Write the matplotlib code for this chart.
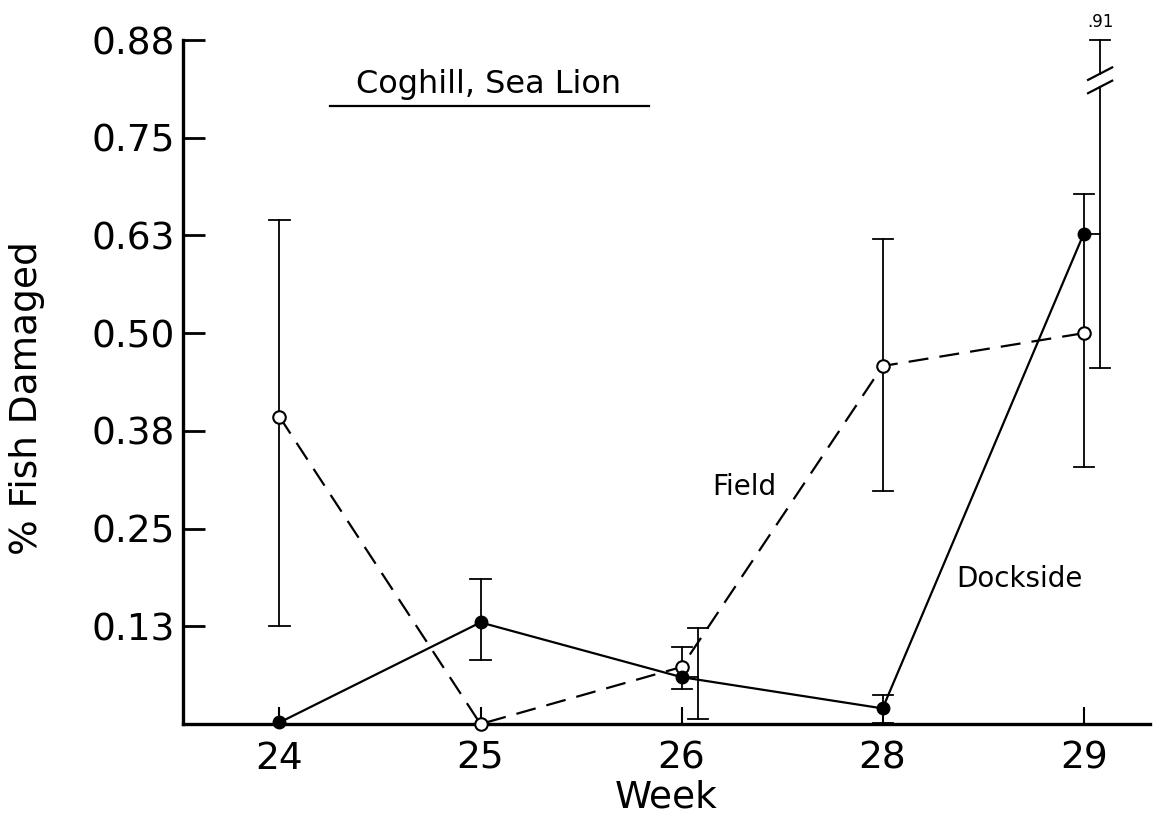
import numpy as np
import matplotlib
matplotlib.use("Agg")
import matplotlib.pyplot as plt

# ---------------------------------------------------------------- data
weeks = ['24', '25', '26', '28', '29']

field = [0.393, 0.000, 0.073, 0.458, 0.500]
field_lo = [0.125, np.nan, 0.045, 0.298, 0.329]
field_hi = [0.645, np.nan, 0.0985, 0.620, 0.678]

dock = [0.002, 0.130, 0.060, 0.020, 0.627]
dock_lo = [np.nan, 0.082, 0.006, 0.001, 0.455]
dock_hi = [np.nan, 0.1855, 0.123, 0.037, 0.910]

ytick_vals = [0.125, 0.25, 0.375, 0.5, 0.625, 0.75, 0.875]
ytick_labels = ['0.13', '0.25', '0.38', '0.50', '0.63', '0.75', '0.88']

# dockside bars drawn beside the point (to keep them apart from field bars)
shifted = [2, 4]

# ---------------------------------------------------------------- figure
fig = plt.figure(figsize=(11.56, 8.27), dpi=100)
ax = fig.add_axes([0.1583, 0.1245, 0.8365, 0.8271])
ymax = 0.875
ax.set_ylim(0, ymax)
ax.set_xlim(-0.48, 4.33)

x = np.arange(len(weeks))
cap = 0.05  # half width of caps, in category units
elw = 1.3


def bar(xp, lo, hi, top_cut=None):
    if np.isnan(lo):
        return
    ax.plot([xp - cap, xp + cap], [lo, lo], color='k', lw=elw, clip_on=False)
    if top_cut is None:
        ax.plot([xp, xp], [lo, hi], color='k', lw=elw, clip_on=False)
        ax.plot([xp - cap, xp + cap], [hi, hi], color='k', lw=elw, clip_on=False)
    else:
        b1, b2 = top_cut
        ax.plot([xp, xp], [lo, b1], color='k', lw=elw, clip_on=False)
        ax.plot([xp, xp], [b2, ymax], color='k', lw=elw, clip_on=False)
        ax.plot([xp - cap, xp + cap], [ymax, ymax], color='k', lw=elw, clip_on=False)
        for yb in (b1, b2):
            ax.plot([xp - 0.06, xp + 0.06], [yb - 0.008, yb + 0.008],
                    color='k', lw=elw + 0.3, clip_on=False)


# field error bars
for i in range(len(weeks)):
    bar(x[i], field_lo[i], field_hi[i])

# dockside error bars
for i in range(len(weeks)):
    if i in shifted:
        xb = x[i] + 0.082
        ax.plot([x[i], xb], [dock[i], dock[i]], color='k', lw=elw)
    else:
        xb = x[i]
    if dock_hi[i] > ymax:
        bar(xb, dock_lo[i], dock_hi[i], top_cut=(ymax - 0.060, ymax - 0.043))
        ax.text(xb, ymax + 0.012, '.' + ('%.2f' % dock_hi[i]).split('.')[1],
                ha='center', va='bottom', fontsize=12)
    else:
        bar(xb, dock_lo[i], dock_hi[i])

# series lines
ax.plot(x, field, color='k', lw=1.6, dashes=[9, 5], marker='o', ms=9,
        mfc='white', mec='k', mew=1.5, zorder=4, clip_on=False)
ax.plot(x, dock, color='k', lw=1.6, marker='o', ms=9, mfc='k', mec='k',
        zorder=4, clip_on=False)

# series labels
ax.text(2.31, 0.303, 'Field', fontsize=20, ha='center', va='center')
ax.text(3.68, 0.186, 'Dockside', fontsize=20, ha='center', va='center')

# title block with underline
ax.text(1.04, 0.818, 'Coghill, Sea Lion', fontsize=23, ha='center', va='center')
ax.plot([0.25, 1.84], [0.790, 0.790], color='k', lw=1.6)

# axes styling
for s in ['top', 'right']:
    ax.spines[s].set_visible(False)
ax.spines['left'].set_linewidth(2.4)
ax.spines['bottom'].set_linewidth(2.4)

ax.set_yticks(ytick_vals)
ax.set_yticklabels(ytick_labels)
ax.set_xticks(x)
ax.set_xticklabels(weeks)
ax.tick_params(axis='y', direction='in', length=16, width=2, pad=6, labelsize=27)
ax.tick_params(axis='x', direction='in', length=12, width=1.5, pad=12, labelsize=27)

ax.set_xlabel('Week', fontsize=27, labelpad=2)
fig.text(27 / 1156, 1 - 398 / 827, '% Fish Damaged', fontsize=27,
         rotation=90, ha='center', va='center')

plt.savefig('out.png', dpi=100)
